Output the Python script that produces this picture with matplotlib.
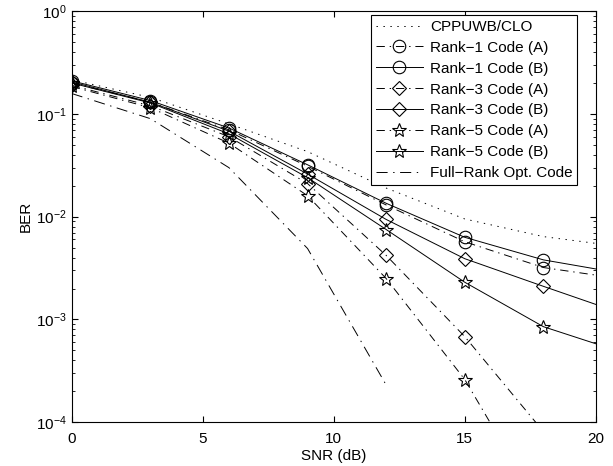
import numpy as np
import matplotlib
matplotlib.use('Agg')
import matplotlib.pyplot as plt

plt.rcParams['font.family'] = ['Liberation Sans', 'DejaVu Sans']
plt.rcParams['mathtext.fontset'] = 'custom'
plt.rcParams['mathtext.rm'] = 'Liberation Sans'
plt.rcParams['mathtext.it'] = 'Liberation Sans:italic'
plt.rcParams['mathtext.bf'] = 'Liberation Sans:bold'
plt.rcParams['lines.scale_dashes'] = False

# SNR points (dB)
snr = [0, 3, 6, 9, 12, 15, 18, 20]
snr_a = [0, 3, 6, 9, 12, 15, 18]
snr_full = [0, 3, 6, 9, 12]

ber_clo = [0.215, 0.145, 0.08, 0.043, 0.019, 0.0095, 0.0064, 0.0055]
ber_r1a = [0.2, 0.13, 0.07, 0.031, 0.013, 0.0057, 0.0032, 0.0027]
ber_r1b = [0.21, 0.135, 0.073, 0.032, 0.0135, 0.0063, 0.0038, 0.0031]
ber_r3a = [0.19, 0.12, 0.06, 0.021, 0.0042, 6.8e-4, 8.1e-5]
ber_r3b = [0.205, 0.13, 0.068, 0.026, 0.0094, 0.0039, 0.0021, 0.0014]
ber_r5a = [0.185, 0.115, 0.052, 0.016, 0.0025, 2.6e-4, 1.3e-5]
ber_r5b = [0.2, 0.128, 0.064, 0.024, 0.0075, 0.0023, 0.00085, 0.00058]
ber_full = [0.158, 0.09, 0.030, 0.0049, 2.3e-4]

labels = ['CPPUWB/CLO', 'Rank\u22121 Code (A)', 'Rank\u22121 Code (B)',
          'Rank\u22123 Code (A)', 'Rank\u22123 Code (B)', 'Rank\u22125 Code (A)',
          'Rank\u22125 Code (B)', 'Full\u2212Rank Opt. Code']

fs = 11
dashdot = (0, (6, 3.5, 1, 3.5))
dotted = (0, (1, 4))
lw = 0.7

fig = plt.figure(figsize=(6.13, 4.66), dpi=100)
ax = fig.add_axes([0.117, 0.094, 0.855, 0.882])

mk = dict(mfc='none', mec='k', mew=0.8, color='k', lw=lw)
ax.plot(snr, ber_clo, color='k', lw=lw, ls=dotted, label=labels[0])
ax.plot(snr, ber_r1a, ls=dashdot, marker='o', ms=9, markevery=slice(0, 7), label=labels[1], **mk)
ax.plot(snr, ber_r1b, ls='-', marker='o', ms=9, markevery=slice(0, 7), label=labels[2], **mk)
ax.plot(snr_a, ber_r3a, ls=dashdot, marker='D', ms=7, label=labels[3], **mk)
ax.plot(snr, ber_r3b, ls='-', marker='D', ms=7, markevery=slice(0, 7), label=labels[4], **mk)
ax.plot(snr_a, ber_r5a, ls=dashdot, marker='*', ms=10, label=labels[5], **mk)
ax.plot(snr, ber_r5b, ls='-', marker='*', ms=10, markevery=slice(0, 7), label=labels[6], **mk)
ax.plot(snr_full, ber_full, color='k', lw=lw, ls=(0, (8, 4, 1, 4)), label=labels[7])

ax.set_yscale('log')
ax.set_xlim(0, 20)
ax.set_ylim(1e-4, 1)
ax.set_xticks([0, 5, 10, 15, 20])
ax.tick_params(which='both', direction='in', top=True, right=True, labelsize=fs)
ax.tick_params(which='major', length=4)
ax.tick_params(which='minor', length=2)
ax.tick_params(axis='x', which='major', pad=7)
for s in ax.spines.values():
    s.set_linewidth(0.8)
ax.set_xlabel('SNR (dB)', fontsize=fs, labelpad=2)
ax.set_ylabel('BER', fontsize=fs, labelpad=2)

leg = ax.legend(loc='upper right', bbox_to_anchor=(0.964, 0.99), fontsize=fs,
                fancybox=False, edgecolor='k', framealpha=1, handlelength=3.1,
                handletextpad=0.45, labelspacing=0.45, borderpad=0.3, borderaxespad=0)
leg.get_frame().set_linewidth(0.8)

fig.savefig('out.png', dpi=100)
